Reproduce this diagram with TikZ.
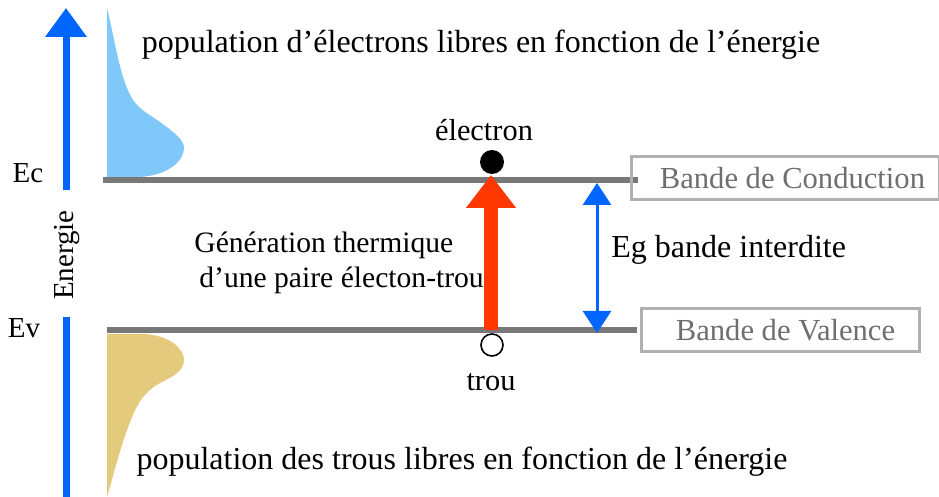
\documentclass[tikz,border=0pt]{standalone}
\usepackage{fontspec}
\setmainfont{Liberation Serif}
\usetikzlibrary{arrows.meta}
\definecolor{axisblue}{RGB}{0,102,255}
\definecolor{genred}{RGB}{255,55,0}
\definecolor{bandgray}{RGB}{120,120,120}
\definecolor{boxgray}{RGB}{176,176,176}
\definecolor{boxtext}{RGB}{110,110,110}
\definecolor{elecfill}{RGB}{128,200,250}
\definecolor{holefill}{RGB}{227,202,125}
\begin{document}
\begin{tikzpicture}[x=0.5pt,y=-0.5pt,
  txt/.style={font=\fontsize{14.5pt}{17pt}\selectfont, inner sep=0pt},
  bigtxt/.style={font=\fontsize{16pt}{19pt}\selectfont, inner sep=0pt},
  gentxt/.style={font=\fontsize{14.8pt}{17pt}\selectfont, inner sep=0pt, anchor=west},
  bandline/.style={draw=bandgray, line width=3pt},
  bandbox/.style={font=\fontsize{15.3pt}{18pt}\selectfont, draw=boxgray, line width=1.5pt, text=boxtext, inner sep=0pt, minimum height=21.5pt, anchor=west},
]
\useasboundingbox (0,0) rectangle (939,497);
% population fills
\fill[elecfill] (107,8) .. controls (115,40) and (120,80) .. (133,100)
  .. controls (140,110) and (150,115) .. (160,122)
  .. controls (175,133) and (184,140) .. (184,148)
  .. controls (184,160) and (170,175) .. (140,177)
  -- (107,177) -- cycle;
\fill[holefill] (107,334) -- (145,334)
  .. controls (172,336) and (184,350) .. (184,360)
  .. controls (184,372) and (170,378) .. (160,383)
  .. controls (148,390) and (140,398) .. (133,415)
  .. controls (122,440) and (115,470) .. (107,497) -- cycle;
% energy axis
\coordinate (axtop) at (66,8);
\coordinate (axmid) at (66,190);
\coordinate (axlow) at (66,317);
\coordinate (axbot) at (66,497);
\draw[axisblue, line width=3.5pt, -{Triangle[width=20pt,length=14.5pt]}] (axmid) -- (axtop);
\draw[axisblue, line width=3.5pt] (axlow) -- (axbot);
\node[txt, rotate=90] (energie) at (67,255) {Energie};
\node[txt] (ec) at (28,173) {Ec};
\node[txt] (ev) at (24,328) {Ev};
% bands
\coordinate (cl) at (103,180);
\coordinate (cr) at (638,180);
\coordinate (vl) at (107,330);
\coordinate (vr) at (637,330);
\draw[bandline] (cl) -- (cr);
\draw[bandline] (vl) -- (vr);
\node[bandbox, minimum width=154pt] (cbox) at (630,178.5) {\hspace{7pt}Bande de Conduction\hspace{10pt}};
\node[bandbox, minimum width=139pt] (vbox) at (640,330.5) {\hspace{5pt}Bande de Valence\hspace{16pt}};
% texts
\node[bigtxt] (popel) at (481,45) {population d’électrons libres en fonction de l’énergie};
\node[bigtxt] (poptr) at (462,462) {population des trous libres en fonction de l’énergie};
\node[txt, font=\fontsize{15.2pt}{18pt}\selectfont] (electxt) at (484,130) {électron};
\node[txt, font=\fontsize{15.2pt}{18pt}\selectfont] (troutxt) at (491,382) {trou};
\node[gentxt] (gen1) at (194,245) {Génération thermique};
\node[gentxt] (gen2) at (199,280) {d’une paire électon-trou};
\node[bigtxt, anchor=west] (eg) at (611,250) {Eg bande interdite};
% electron & hole
\node[circle, fill=black, minimum size=12pt, inner sep=0pt] (elec) at (492,162) {};
\node[circle, draw=black, fill=white, line width=0.8pt, minimum size=11pt, inner sep=0pt] (hole) at (492,345) {};
% generation arrow
\coordinate (gbot) at (491,330);
\coordinate (gtop) at (491,175);
\draw[genred, line width=7pt, -{Triangle[width=24pt,length=16.5pt]}] (gbot) -- (gtop);
% gap arrow
\coordinate (egtop) at (597,183);
\coordinate (egbot) at (597,333);
\draw[axisblue, line width=1.5pt, {Triangle[width=14pt,length=11pt]}-{Triangle[width=14pt,length=11pt]}] (egtop) -- (egbot);
\end{tikzpicture}
\end{document}
